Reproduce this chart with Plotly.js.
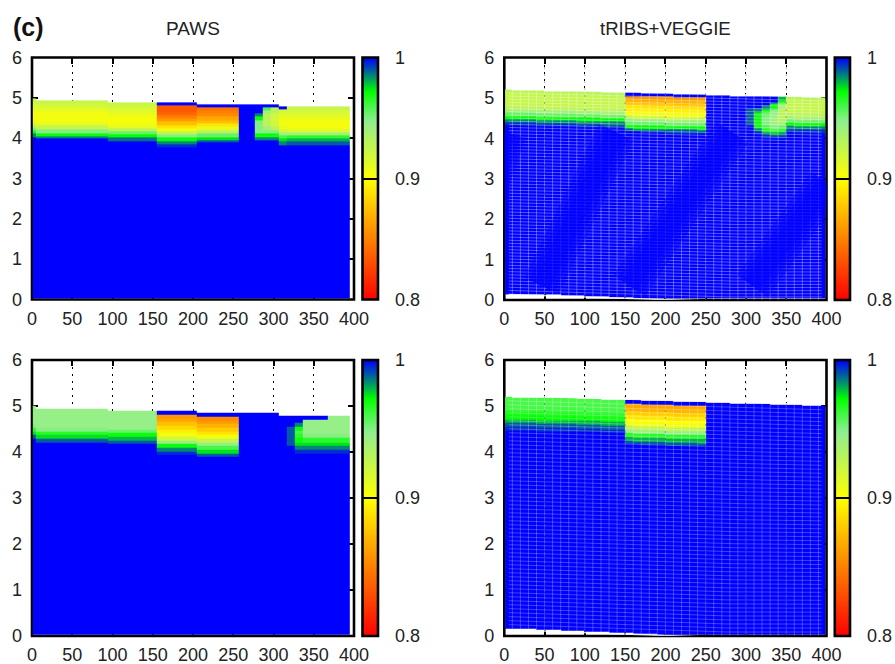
<!DOCTYPE html>
<html><head><meta charset="utf-8">
<script src="https://cdn.plot.ly/plotly-3.0.1.min.js"></script>
<style>html,body{margin:0;padding:0;background:#fff}#c{width:895px;height:664px}</style>
</head><body><div id="c"></div>
<script>
// ---------- values ----------
const xTicks = [0,50,100,150,200,250,300,350,400];
const yTicks = [0,1,2,3,4,5,6];
const barTicks = [0.8,0.9,1];
const barTickText = ['0.8','0.9','1'];
const barLevels = [0.8,0.81,0.82,0.83,0.84,0.85,0.86,0.87,0.88,0.89,0.9,0.91,0.92,0.93,0.94,0.95,0.96,0.97,0.98,0.99,1];
const panelTitles = ['PAWS','tRIBS+VEGGIE'];
const bandDepth = 0.08;

// PAWS, upper row: column edges, surface per column, saturation per layer from surface down
const pawsEdges = [1,5,94,155,205,257,277,287,297,307,317,395];
const pawsTopSurface = [4.98,4.94,4.89,4.89,4.84,4.84,4.84,4.84,4.84,4.79,4.79];
const pawsTopProfiles = [
 [.925,.92,.915,.91,.905,.905,.905,.91,.925,.95,.97,.985],
 [.925,.92,.915,.91,.905,.905,.905,.91,.925,.95,.97,.985],
 [.925,.92,.915,.91,.905,.903,.905,.91,.93,.955,.972,.988],
 [1,.835,.835,.84,.85,.86,.875,.89,.905,.925,.95,.97,.985,.995],
 [1,.845,.85,.855,.865,.875,.89,.91,.93,.955,.975,.99],
 [],
 [1,1,1,.985,.97,.95,.95,.95,.95,.97,.985],
 [1,.96,.94,.93,.93,.93,.93,.94,.95,.97,.985],
 [1,.93,.93,.92,.92,.92,.92,.93,.95,.97,.985],
 [1,.92,.915,.91,.905,.905,.91,.92,.94,.96,.975,.985],
 [.925,.92,.915,.91,.905,.903,.905,.915,.94,.965,.98,.99]
];

// PAWS, lower row
const pawsLowEdges = [1,5,94,155,205,257,307,317,327,337,368,395];
const pawsLowSurface = [5.0,4.93,4.89,4.89,4.85,4.85,4.78,4.78,4.78,4.78,4.78];
const pawsLowProfiles = [
 [.945,.945,.945,.945,.945,.95,.965,.975,.99],
 [.945,.945,.945,.945,.945,.95,.965,.975,.99],
 [.945,.945,.945,.945,.945,.955,.97,.98,.99],
 [1,.86,.865,.875,.885,.895,.905,.92,.945,.97,.985,.995],
 [1,.855,.86,.87,.88,.89,.905,.925,.945,.96,.975,.99],
 [],
 [],
 [1,1,1,.99,.99,.99,.99,.99],
 [1,1,.985,.97,.96,.965,.97,.975,.985,.995],
 [1,.945,.945,.945,.945,.95,.965,.975,.985,.995],
 [.945,.945,.945,.945,.945,.95,.965,.975,.985,.995]
];

// tRIBS+VEGGIE, 10-wide columns
const tribsEdges = [1,10,20,30,40,50,60,70,80,90,100,110,120,130,140,150,160,170,180,190,200,210,220,230,240,250,260,270,280,290,300,310,320,330,340,350,360,370,380,390,398];
const tribsSurface = [5.2,5.195,5.19,5.185,5.18,5.175,5.17,5.165,5.16,5.155,5.15,5.145,5.14,5.135,5.13,5.125,5.12,5.115,5.11,5.105,5.1,5.095,5.09,5.085,5.08,5.075,5.07,5.065,5.06,5.055,5.05,5.045,5.04,5.035,5.03,5.025,5.02,5.015,5.01,5.005];
const tribsBase = [.16,.154,.148,.141,.135,.128,.122,.115,.109,.102,.096,.09,.083,.077,.07,.064,.058,.051,.045,.038,.032,.026,.019,.013,.006,0,0,0,0,0,0,0,0,0,0,0,0,0,0,0];
const tribsTopKinds = ['a','a','a','a','a','a','a','a','a','a','a','a','a','a','a','b','b','b','b','b','b','b','b','b','b','n','n','n','n','n','p','q','r','s','t','a','a','a','a','a'];
const tribsTopProfiles = {
 a:[.93,.925,.925,.925,.925,.93,.94,.955,.972,.985,.995],
 b:[1,.86,.87,.88,.89,.895,.905,.925,.945,.955,.972,.99],
 n:[],
 p:[1,1,1,1,.99,.99,.99,.99,.99],
 q:[1,1,1,1,.985,.97,.97,.97,.97,.97,.985,.995],
 r:[1,1,1,.985,.97,.955,.95,.95,.95,.96,.97,.985,.995],
 s:[1,1,.97,.97,.95,.945,.94,.94,.94,.95,.965,.98,.995],
 t:[.98,.97,.94,.935,.93,.93,.93,.935,.94,.955,.97,.985,.995]
};
const tribsLowKinds = ['a','a','a','a','a','a','a','a','a','a','a','a','a','a','a','b','b','b','b','b','b','b','b','b','b','n','n','n','n','n','n','n','n','n','n','n','n','n','n','n'];
const tribsLowProfiles = {
 a:[.96,.96,.96,.962,.968,.972,.98,.99,.995],
 b:[1,.865,.87,.88,.89,.9,.905,.93,.945,.965,.98,.99],
 n:[]
};
// darker diagonal bands in the upper tRIBS+VEGGIE panel: [x, y] of the two ends
const darkBands = [
 [[-40,1.6],[4,4.15]],
 [[46,0.35],[139,4.15]],
 [[155,0.35],[283,4.15]],
 [[308,0.35],[400,2.9]]
];

// ---------- colours ----------
const scale = [[0,'#ff0000'],[0.5,'#ffff00'],[0.74,'#90ee90'],[0.86,'#00ff00'],[0.93,'#007f7f'],[1,'#0000ff']];

// ---------- grid building ----------
const rowEdges=[]; for(let i=0;i<=264;i++) rowEdges.push(+(0.03+i*0.02).toFixed(3));
function grid(edges,surface,base,profiles){
  const z=[];
  for(let r=0;r<rowEdges.length-1;r++){
    const y=(rowEdges[r]+rowEdges[r+1])/2, row=[];
    for(let c=0;c<edges.length-1;c++){
      const d=surface[c]-y;
      if(d<0||y<base[c]){row.push(null);continue;}
      const k=Math.floor(d/bandDepth), p=profiles[c];
      row.push(k<p.length?p[k]:1);
    }
    z.push(row);
  }
  return z;
}
const colMid=tribsSurface.map((_,c)=>(tribsEdges[c]+tribsEdges[c+1])/2);
function mesh(count){
  const xs=[],ys=[];
  for(let k=1;k<count;k++){
    for(let c=0;c<tribsSurface.length;c++){
      xs.push(colMid[c]);
      ys.push(tribsBase[c]+(tribsSurface[c]-tribsBase[c])*k/count);
    }
    xs.push(null);ys.push(null);
  }
  for(let c=1;c<tribsSurface.length;c++){
    xs.push(tribsEdges[c],tribsEdges[c],null);
    ys.push(tribsBase[c],tribsSurface[c],null);
  }
  return {xs,ys};
}
const zero=edges=>edges.slice(1).map(()=>0);
const pick=(kinds,table)=>kinds.map(k=>table[k]);

// ---------- panels ----------
const W=895,H=664;
const panels=[
 {x:[32,354],y:[57.5,299.5],bar:[362.5,378],edges:pawsEdges,surface:pawsTopSurface,base:zero(pawsEdges),prof:pawsTopProfiles},
 {x:[504.3,826.5],y:[57.5,300],bar:[834.8,850],edges:tribsEdges,surface:tribsSurface,base:tribsBase,prof:pick(tribsTopKinds,tribsTopProfiles),mesh:65,alpha:0.36,bands:darkBands},
 {x:[32,354],y:[360,636],bar:[362.5,378],edges:pawsLowEdges,surface:pawsLowSurface,base:zero(pawsLowEdges),prof:pawsLowProfiles},
 {x:[504.3,826.5],y:[360,636],bar:[834.8,850],edges:tribsEdges,surface:tribsSurface,base:tribsBase,prof:pick(tribsLowKinds,tribsLowProfiles),mesh:58,alpha:0.28}
];
const font={family:'"Liberation Sans",Arial,sans-serif',size:18,color:'#222'};
const traces=[];
const layout={width:W,height:H,margin:{l:0,r:0,t:0,b:0},paper_bgcolor:'#fff',plot_bgcolor:'#fff',showlegend:false,font:font,shapes:[],
 annotations:[
  {text:'<b>(c)</b>',xref:'paper',yref:'paper',x:11/W,y:1-27/H,xanchor:'left',yanchor:'middle',showarrow:false,font:{family:font.family,size:25,color:'#111'}},
  {text:panelTitles[0],xref:'paper',yref:'paper',x:192.5/W,y:1-29/H,xanchor:'center',yanchor:'middle',showarrow:false,font:{family:font.family,size:19,color:'#222'}},
  {text:panelTitles[1],xref:'paper',yref:'paper',x:665.5/W,y:1-29/H,xanchor:'center',yanchor:'middle',showarrow:false,font:{family:font.family,size:18.6,color:'#222'}}
 ]};
panels.forEach((p,i)=>{
  const a=2*i+1,b=2*i+2;
  const xa='x'+a,ya='y'+a,xb='x'+b,yb='y'+b;
  traces.push({type:'heatmap',x:p.edges,y:rowEdges,z:grid(p.edges,p.surface,p.base,p.prof),xaxis:xa,yaxis:ya,
    colorscale:scale,zmin:.8,zmax:1,showscale:false,hoverinfo:'skip'});
  if(p.mesh){
    const m=mesh(p.mesh);
    traces.push({type:'scatter',mode:'lines',x:m.xs,y:m.ys,xaxis:xa,yaxis:ya,hoverinfo:'skip',line:{color:'rgba(255,255,255,'+p.alpha+')',width:0.9}});
    (p.bands?[38,28,18]:[]).forEach(w=>{
      const bx=[],by=[];
      p.bands.forEach(s=>{bx.push(s[0][0],s[1][0],null);by.push(s[0][1],s[1][1],null);});
      traces.push({type:'scatter',mode:'lines',x:bx,y:by,xaxis:xa,yaxis:ya,hoverinfo:'skip',line:{color:'rgba(0,0,255,0.35)',width:w}});
    });
    const dx=[],dy=[];
    xTicks.slice(1,-1).forEach(t=>{dx.push(t,t,null);dy.push(0,6,null);});
    traces.push({type:'scatter',mode:'lines',x:dx,y:dy,xaxis:xa,yaxis:ya,hoverinfo:'skip',line:{color:'rgba(0,0,0,0.3)',width:1,dash:'2px,5px'}});
    // soften the stepped edges of the ground block
    traces.push({type:'scatter',mode:'lines',x:colMid,y:tribsSurface.map(v=>v+.025),xaxis:xa,yaxis:ya,hoverinfo:'skip',line:{color:'rgba(255,255,255,0.8)',width:1.5}});
    traces.push({type:'scatter',mode:'lines',x:colMid.slice(0,25),y:tribsBase.slice(0,25).map(v=>v-.025),xaxis:xa,yaxis:ya,hoverinfo:'skip',line:{color:'rgba(255,255,255,0.8)',width:1.5}});
  }
  traces.push({type:'heatmap',x:[0,1],y:barLevels,z:barLevels.map(v=>[v,v]),xaxis:xb,yaxis:yb,zsmooth:'best',
    colorscale:scale,zmin:.8,zmax:1,showscale:false,hoverinfo:'skip'});
  const dom=(r,t)=>[r[0]/t,r[1]/t], ydom=r=>[1-r[1]/H,1-r[0]/H];
  layout['xaxis'+a]={domain:dom(p.x,W),range:[0,400],anchor:ya,tickmode:'array',tickvals:xTicks,ticktext:xTicks.map(String),ticks:'inside',ticklen:6,tickwidth:2,tickcolor:'#000',
    showline:false,mirror:'ticks',layer:'below traces',zeroline:false,
    showgrid:true,griddash:'2px,5px',gridcolor:'#000',gridwidth:1,ticklabelstandoff:6,tickfont:font};
  layout['yaxis'+a]={domain:ydom(p.y),range:[0,6],anchor:xa,tickmode:'array',tickvals:yTicks,ticktext:yTicks.map(String),ticks:'inside',ticklen:6,tickwidth:2,tickcolor:'#000',
    showline:false,mirror:'ticks',layer:'below traces',zeroline:false,showgrid:false,ticklabelstandoff:9,tickfont:font};
  layout['xaxis'+b]={domain:dom(p.bar,W),range:[0,1],anchor:yb,showticklabels:false,ticks:'',showline:false,showgrid:false,zeroline:false};
  layout['yaxis'+b]={domain:ydom(p.y),range:[.8,1],anchor:xb,side:'right',tickmode:'array',tickvals:barTicks,ticktext:barTickText,ticks:'inside',ticklen:p.bar[1]-p.bar[0],tickwidth:2,tickcolor:'#000',
    showline:false,showgrid:false,zeroline:false,ticklabelstandoff:16,tickfont:font};
  const frame=(xr,yr,layer)=>({type:'rect',xref:xr+' domain',yref:yr+' domain',x0:0,x1:1,y0:0,y1:1,layer:layer,line:{color:'#000',width:2.6},fillcolor:'rgba(0,0,0,0)'});
  layout.shapes.push(frame(xa,ya,'below'),frame(xb,yb,'above'));
});
Plotly.newPlot('c',traces,layout,{displayModeBar:false,staticPlot:true});
</script></body></html>
